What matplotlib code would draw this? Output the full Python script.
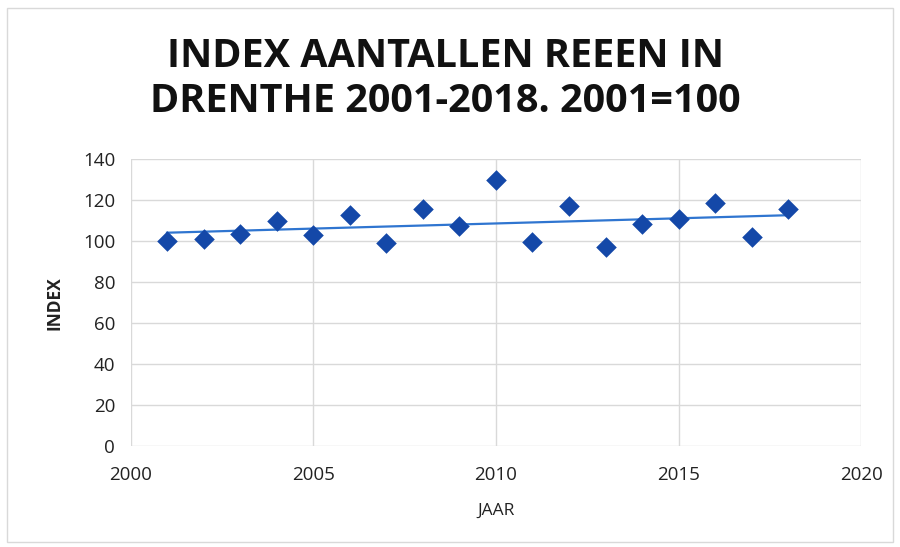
import matplotlib.pyplot as plt
import matplotlib.patches as patches
import numpy as np

years = [2001, 2002, 2003, 2004, 2005, 2006, 2007, 2008, 2009,
         2010, 2011, 2012, 2013, 2014, 2015, 2016, 2017, 2018]
index = [100, 101, 103.5, 110, 103, 113, 99, 115.5, 107.5,
         130, 99.5, 117, 97, 108.5, 111, 118.5, 102, 115.5]

xticks = [2000, 2005, 2010, 2015, 2020]
yticks = [0, 20, 40, 60, 80, 100, 120, 140]

plt.rcParams['font.family'] = ['Open Sans', 'DejaVu Sans']

fig = plt.figure(figsize=(9, 5.47), dpi=100)
ax = fig.add_axes([0.145, 0.184, 0.812, 0.525])

# light border around the chart
fig.patches.append(patches.Rectangle((0.008, 0.01), 0.984, 0.975, transform=fig.transFigure,
                                     fill=False, edgecolor='#d9d9d9', linewidth=1))

ax.grid(True, color='#d9d9d9', linewidth=1, zorder=0)
ax.set_axisbelow(True)
for s in ax.spines.values():
    s.set_visible(False)

ax.scatter(years, index, marker='D', s=110, color='#1448a8', zorder=3, linewidths=0)

# linear trendline
coef = np.polyfit(years, index, 1)
tx = np.array([years[0], years[-1]])
ax.plot(tx, np.polyval(coef, tx), color='#2f75d0', linewidth=1.6, zorder=2)

ax.set_xlim(2000, 2020)
ax.set_ylim(0, 140)
ax.set_xticks(xticks)
ax.set_yticks(yticks)
ax.tick_params(axis='x', length=0, labelsize=13.5, colors='#222222', pad=14)
ax.tick_params(axis='y', length=0, labelsize=13.5, colors='#222222', pad=11)

ax.set_xlabel('JAAR', fontsize=12.5, labelpad=14, color='#222222')
ax.set_ylabel('INDEX', fontsize=12.5, labelpad=14, fontweight='bold', color='#222222')

fig.text(0.495, 0.855, 'INDEX AANTALLEN REEEN IN\nDRENTHE 2001-2018. 2001=100',
         ha='center', va='center', fontsize=28.5, fontweight='bold',
         linespacing=1.2, color='#111111')

fig.savefig('out.png', dpi=100)
